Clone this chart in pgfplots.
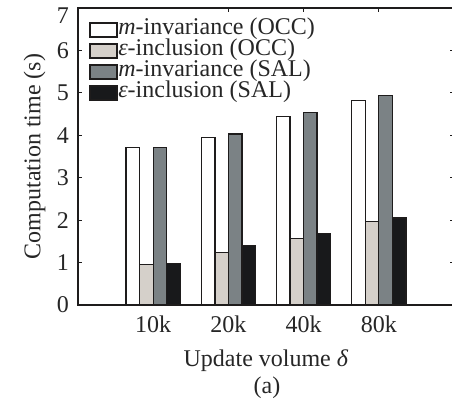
\documentclass[border=0pt]{standalone}
\usepackage{fontspec}
\setmainfont{Liberation Serif}
\usepackage{pgfplots}
\pgfplotsset{compat=1.18}
\definecolor{cLight}{RGB}{213,208,202}
\definecolor{cGray}{RGB}{123,130,133}
\definecolor{cBlack}{RGB}{24,25,27}
\definecolor{cEdge}{RGB}{30,28,28}
\newcommand{\fs}{\fontsize{24bp}{28bp}\selectfont}
\begin{document}
\fs
\begin{tikzpicture}
\path[use as bounding box] (0,0) rectangle (452bp,400bp);
\begin{axis}[
  at={(78bp,95bp)}, anchor=south west,
  scale only axis, width=376bp, height=297bp,
  ybar=0pt, bar width=0.18,
  xmin=0, xmax=5, ymin=0, ymax=7,
  xtick={1,2,3,4}, xticklabels={10k,20k,40k,80k},
  xtick pos=bottom,
  extra x ticks={2,3,4}, extra x tick labels={},
  extra x tick style={xtick pos=top},
  ytick={0,1,...,7},
  yticklabels={0,1,2,3,4,5,6,\smash{\raisebox{-16bp}{7}}},
  ytick pos=both,
  tick align=inside, major tick length=4bp,
  tick style={cEdge, line width=1bp},
  axis line style={cEdge, line width=1.3bp},
  /pgf/number format/assume math mode=true,
  ticklabel style={font=\fs, text=black!85},
  xticklabel style={yshift=-3bp},
  yticklabel style={xshift=-1bp},
  xlabel={Update volume \textit{δ}},
  ylabel={Computation time (s)},
  label style={font=\fs, text=black!85},
  xlabel style={yshift=0bp},
  ylabel style={yshift=-5bp},
  legend cell align=left,
  legend style={draw=none, fill=none, at={(0.03,0.962)}, anchor=north west,
    font=\fs, text=black!85,
    nodes={text height=15bp, text depth=5bp, inner sep=0.5bp},
    row sep=0bp, inner sep=0pt,
    /tikz/every even column/.append style={column sep=6bp}},
  legend image code/.code={\draw[#1, line width=1.3bp] (0bp,-7bp) rectangle (27bp,7bp);},
]
\addplot[draw=cEdge, line width=1.3bp, fill=white] coordinates {(1,3.71) (2,3.94) (3,4.44) (4,4.82)};
\addplot[draw=cEdge, line width=1.3bp, fill=cLight] coordinates {(1,0.96) (2,1.24) (3,1.56) (4,1.96)};
\addplot[draw=cEdge, line width=1.3bp, fill=cGray] coordinates {(1,3.71) (2,4.03) (3,4.53) (4,4.93)};
\addplot[draw=cEdge, line width=1.3bp, fill=cBlack] coordinates {(1,0.97) (2,1.40) (3,1.69) (4,2.05)};
\legend{\textit{m}-invariance (OCC), \textit{ε}-inclusion (OCC), \textit{m}-invariance (SAL), \textit{ε}-inclusion (SAL)}
\end{axis}
\node[text=black!85, font=\fs] at (267bp,12.5bp) {(a)};
\end{tikzpicture}
\end{document}
